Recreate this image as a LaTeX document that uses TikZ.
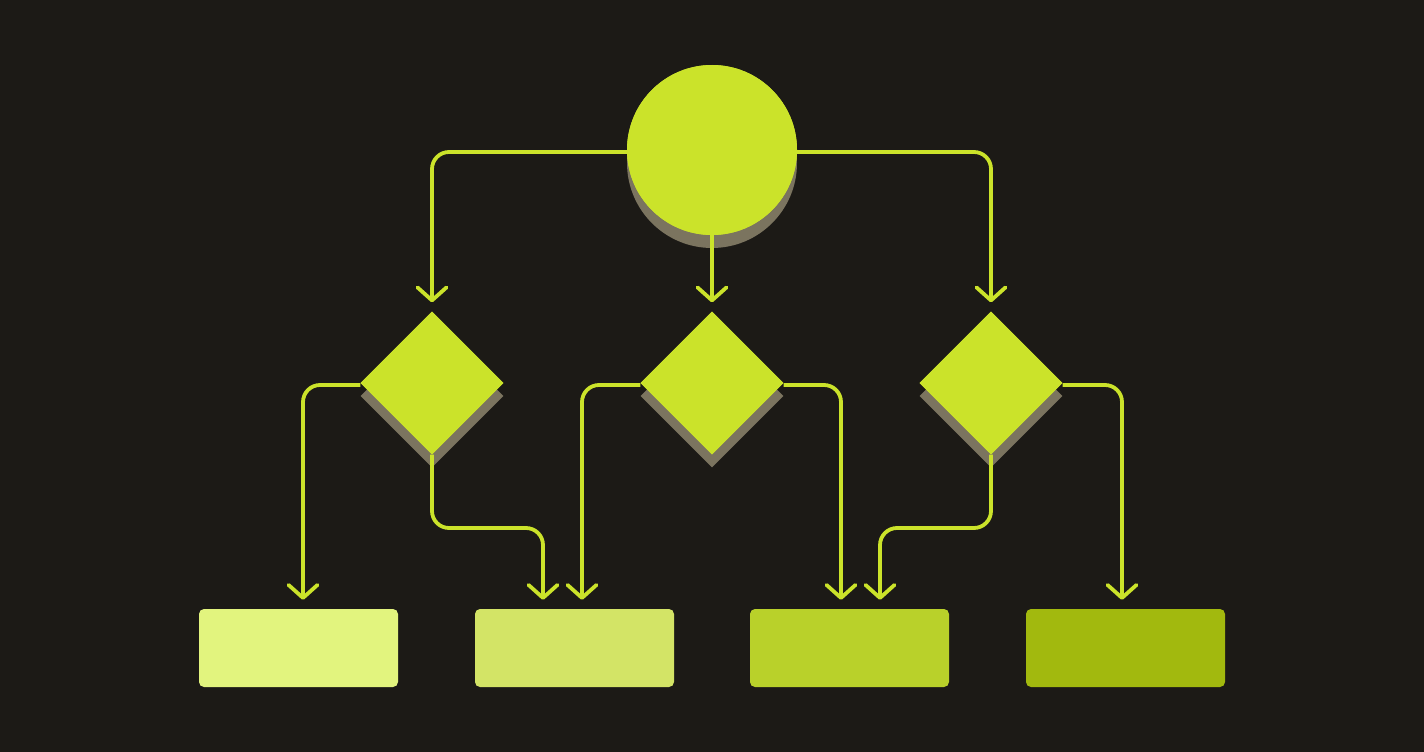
\documentclass[tikz,border=0pt]{standalone}
\usetikzlibrary{shapes.geometric,arrows.meta,calc}
\definecolor{bg}{HTML}{1C1A16}
\definecolor{lime}{HTML}{CBE32A}
\definecolor{shade}{HTML}{7B745F}
\definecolor{rA}{HTML}{E2F47E}
\definecolor{rB}{HTML}{D3E466}
\definecolor{rC}{HTML}{B9D12A}
\definecolor{rD}{HTML}{A2B90E}
\tikzset{
  conn/.style={draw=lime,line width=3.8pt,rounded corners=17pt,
    -{Straight Barb[length=13pt,width=29pt,line width=3.8pt,round]}},
  start/.style={circle,fill=lime,minimum size=170pt,inner sep=0pt},
  startsh/.style={circle,fill=shade,minimum size=170pt,inner sep=0pt},
  decision/.style={diamond,fill=lime,minimum width=143pt,minimum height=143pt,inner sep=0pt},
  decisionsh/.style={diamond,fill=shade,minimum width=143pt,minimum height=143pt,inner sep=0pt},
  outbox/.style={rectangle,rounded corners=5pt,minimum width=199pt,minimum height=78pt,inner sep=0pt}
}
\begin{document}
\begin{tikzpicture}[x=1pt,y=-1pt]
\fill[bg] (0,0) rectangle (1424,752);
\useasboundingbox (0,0) rectangle (1424,752);
% shadows
\node[startsh] (cs) at (712,163) {};
\node[decisionsh] (d1s) at (432,396) {};
\node[decisionsh] (d2s) at (712,396) {};
\node[decisionsh] (d3s) at (991,396) {};
% nodes
\node[start] (c) at (712,150) {};
\node[decision] (d1) at (432,383) {};
\node[decision] (d2) at (712,383) {};
\node[decision] (d3) at (991,383) {};
\node[outbox,fill=rA] (r1) at (298.5,648) {};
\node[outbox,fill=rB] (r2) at (574.5,648) {};
\node[outbox,fill=rC] (r3) at (849.5,648) {};
\node[outbox,fill=rD] (r4) at (1125.5,648) {};
% arrow targets
\coordinate (u1) at ($(d1.north)+(0,-9)$);
\coordinate (u2) at ($(d2.north)+(0,-9)$);
\coordinate (u3) at ($(d3.north)+(0,-9)$);
\coordinate (t1) at ($(r1.north)+(4.5,-9)$);
\coordinate (t2) at ($(r2.north)+(-31.5,-9)$);
\coordinate (t3) at ($(r2.north)+(7.5,-9)$);
\coordinate (t4) at ($(r3.north)+(-8.5,-9)$);
\coordinate (t5) at ($(r3.north)+(30.5,-9)$);
\coordinate (t6) at ($(r4.north)+(-3.5,-9)$);
% connectors
\draw[conn] ($(c.west)+(0,2)$) -| (u1);
\draw[conn] ($(c.east)+(0,2)$) -| (u3);
\draw[conn] (c.south) -- (u2);
\draw[conn] ($(d1.west)+(0,2)$) -| (t1);
\draw[conn] (d1.south) -- (d1.south |- 0,528) -| (t2);
\draw[conn] ($(d2.west)+(0,2)$) -| (t3);
\draw[conn] ($(d2.east)+(0,2)$) -| (t4);
\draw[conn] (d3.south) -- (d3.south |- 0,528) -| (t5);
\draw[conn] ($(d3.east)+(0,2)$) -| (t6);
% main shapes on top of their connector starts
\node[start] at (c) {};
\node[decision] at (d1) {};
\node[decision] at (d2) {};
\node[decision] at (d3) {};
\end{tikzpicture}
\end{document}
